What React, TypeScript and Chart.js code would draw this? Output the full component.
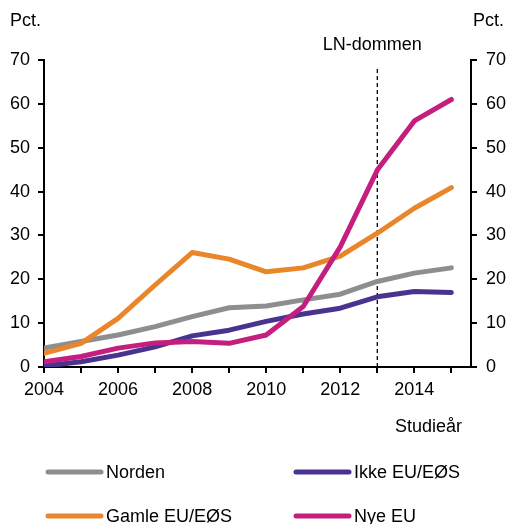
import React, { useEffect, useRef } from "react";
import { Chart, registerables } from "chart.js";

Chart.register(...registerables);

const years = [2004, 2005, 2006, 2007, 2008, 2009, 2010, 2011, 2012, 2013, 2014, 2015];
const norden = [4.3, 5.8, 7.3, 9.2, 11.5, 13.5, 13.9, 15.3, 16.6, 19.5, 21.4, 22.6];
const gamleEU = [3.1, 5.4, 11.1, 18.7, 26.1, 24.6, 21.7, 22.6, 25.3, 30.5, 36.2, 40.9];
const ikkeEU = [0.2, 1.2, 2.7, 4.6, 7.1, 8.4, 10.4, 12.1, 13.4, 16.0, 17.2, 17.0];
const nyeEU = [1.2, 2.4, 4.3, 5.5, 5.8, 5.4, 7.3, 13.8, 27.4, 44.9, 56.1, 61.0];
const markerYear = 2013;
const markerLabel = "LN-dommen";
const yTicks = [0, 10, 20, 30, 40, 50, 60, 70];

const FONT = "'Liberation Sans', Arial, sans-serif";

const overlay = {
  id: "overlay",
  beforeDatasetsDraw(chart: any) {
    const ctx = chart.ctx;
    const x = chart.scales.x.getPixelForValue(markerYear);
    const y0 = chart.scales.y.getPixelForValue(0);
    const yTop = chart.scales.y.getPixelForValue(68);
    ctx.save();
    ctx.strokeStyle = "#000";
    ctx.lineWidth = 1.3;
    ctx.setLineDash([4, 3]);
    ctx.beginPath();
    ctx.moveTo(x, y0);
    ctx.lineTo(x, yTop);
    ctx.stroke();
    ctx.restore();
  },
  afterDraw(chart: any) {
    const ctx = chart.ctx;
    ctx.save();
    ctx.fillStyle = "#000";
    ctx.font = `18px ${FONT}`;
    ctx.textBaseline = "middle";
    ctx.textAlign = "left";
    ctx.fillText("Pct.", 10, 21);
    ctx.fillText("Pct.", 473, 21);
    ctx.fillText("Studieår", 395, 427);
    ctx.textAlign = "center";
    const x = chart.scales.x.getPixelForValue(markerYear);
    ctx.fillText(markerLabel, x - 5, 45);
    // legend
    const ds = chart.data.datasets;
    const pos: Record<string, [number, number]> = {
      "Norden": [48, 472],
      "Ikke EU/EØS": [296, 472],
      "Gamle EU/EØS": [48, 516],
      "Nye EU": [296, 516],
    };
    ds.forEach((d: any) => {
      const p = pos[d.label];
      if (!p) return;
      ctx.strokeStyle = d.borderColor;
      ctx.lineWidth = 5;
      ctx.lineCap = "round";
      ctx.beginPath();
      ctx.moveTo(p[0], p[1]);
      ctx.lineTo(p[0] + 53, p[1]);
      ctx.stroke();
      ctx.textAlign = "left";
      ctx.fillStyle = "#000";
      ctx.fillText(d.label, p[0] + 58, p[1] + 1);
    });
    ctx.restore();
  },
};

export default function App() {
  const ref = useRef<HTMLCanvasElement>(null);
  useEffect(() => {
    document.body.style.margin = "0";
    const mk = (label: string, data: number[], color: string) => ({
      label,
      data: years.map((y, i) => ({ x: y, y: data[i] })),
      borderColor: color,
      backgroundColor: color,
      borderWidth: 5,
      pointRadius: 0,
      tension: 0,
      borderCapStyle: "round",
      borderJoinStyle: "round",
      yAxisID: "y",
    });
    const tickCommon = { color: "#000", font: { size: 18, family: FONT } };
    const chart = new Chart(ref.current!, {
      type: "line",
      data: {
        datasets: [
          mk("Nye EU", nyeEU, "#c41f7f"),
          mk("Ikke EU/EØS", ikkeEU, "#48338f"),
          mk("Gamle EU/EØS", gamleEU, "#e9862a"),
          mk("Norden", norden, "#8e8e8e"),
        ] as any,
      },
      options: {
        animation: false,
        responsive: false,
        maintainAspectRatio: false,
        layout: { padding: { top: 60, left: 0, right: 0, bottom: 0 } },
        plugins: { legend: { display: false }, tooltip: { enabled: false } },
        scales: {
          x: {
            type: "linear",
            min: 2004,
            max: 2015.53,
            ticks: {
              ...tickCommon,
              stepSize: 1,
              includeBounds: false,
              maxRotation: 0,
              autoSkip: false,
              padding: 6,
              callback: (v: any) => (Number(v) % 2 === 0 ? String(v) : ""),
            },
            grid: { display: true, drawOnChartArea: false, drawTicks: true, tickLength: 6, tickColor: "#000", lineWidth: 2 },
            border: { display: true, color: "#000", width: 2 },
            afterFit: (s: any) => { s.height = 157; },
          },
          y: {
            position: "left",
            min: 0,
            max: 70,
            afterBuildTicks: (s: any) => { s.ticks = yTicks.map((v) => ({ value: v })); },
            ticks: { ...tickCommon, padding: 8 },
            grid: { display: true, drawOnChartArea: false, drawTicks: true, tickLength: 6, tickColor: "#000", lineWidth: 2 },
            border: { display: true, color: "#000", width: 2 },
            afterFit: (s: any) => { s.width = 44; },
          },
          y2: {
            position: "right",
            min: 0,
            max: 70,
            afterBuildTicks: (s: any) => { s.ticks = yTicks.map((v) => ({ value: v })); },
            ticks: { ...tickCommon, padding: 9 },
            grid: { display: true, drawOnChartArea: false, drawTicks: true, tickLength: 6, tickColor: "#000", lineWidth: 2 },
            border: { display: true, color: "#000", width: 2 },
            afterFit: (s: any) => { s.width = 36; },
          },
        },
      } as any,
      plugins: [overlay],
    });
    return () => chart.destroy();
  }, []);
  return (
    <div style={{ width: 507, height: 524, overflow: "hidden" }}>
      <canvas ref={ref} width={507} height={524} style={{ display: "block" }} />
    </div>
  );
}
